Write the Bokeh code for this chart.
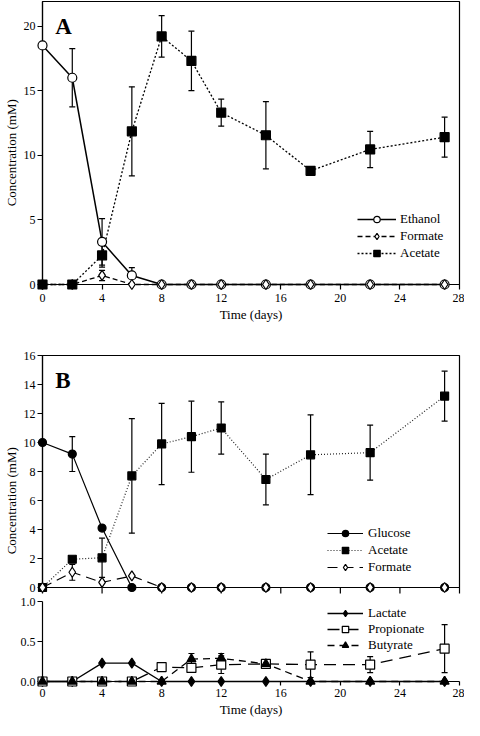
from bokeh.plotting import figure
from bokeh.models import (ColumnDataSource, Whisker, TeeHead, Legend, LegendItem,
                          Range1d, FixedTicker, PrintfTickFormatter)
from bokeh.layouts import column
from bokeh.embed import file_html
from bokeh.resources import INLINE
from bokeh.core.properties import value

# ---------------- data ----------------
days = [0, 2, 4, 6, 8, 10, 12, 15, 18, 22, 27]

# Panel A
ethanol_a = [18.5, 16.0, 3.3, 0.7, 0, 0, 0, 0, 0, 0, 0]
ethanol_a_err = [0, 2.25, 1.8, 0.6, 0, 0, 0, 0, 0, 0, 0]
formate_a = [0, 0, 0.7, 0, 0, 0, 0, 0, 0, 0, 0]
formate_a_err = [0, 0, 0.4, 0, 0, 0, 0, 0, 0, 0, 0]
acetate_a = [0, 0, 2.25, 11.85, 19.2, 17.3, 13.3, 11.55, 8.8, 10.45, 11.4]
acetate_a_err = [0, 0, 0.9, 3.45, 1.6, 2.3, 1.05, 2.6, 0, 1.4, 1.55]

# Panel B (upper)
glucose_b = [10.0, 9.2, 4.1, 0, 0, 0, 0, 0, 0, 0, 0]
glucose_b_err = [0, 1.2, 0, 0, 0, 0, 0, 0, 0, 0, 0]
acetate_b = [0, 1.95, 2.05, 7.7, 9.9, 10.4, 11.0, 7.45, 9.15, 9.3, 13.2]
acetate_b_err = [0, 0, 1.35, 3.95, 2.8, 2.45, 1.8, 1.75, 2.75, 1.9, 1.72]
formate_b = [0, 1.05, 0.35, 0.8, 0, 0, 0, 0, 0, 0, 0]
formate_b_err = [0, 0.55, 0, 0, 0, 0, 0, 0, 0, 0, 0]

# Panel B (lower)
lactate_b = [0, 0, 0.23, 0.23, 0, 0, 0, 0, 0, 0, 0]
propionate_b = [0, 0, 0, 0, 0.18, 0.17, 0.21, 0.22, 0.21, 0.21, 0.41]
propionate_b_err = [0, 0, 0, 0, 0, 0.05, 0.11, 0, 0.16, 0.1, 0.3]
butyrate_b = [0, 0, 0, 0, 0, 0.28, 0.29, 0.22, 0, 0, 0]
butyrate_b_err = [0, 0, 0, 0, 0, 0.07, 0.06, 0, 0, 0, 0]

x_ticks = [0, 4, 8, 12, 16, 20, 24, 28]
ya_ticks = [0, 5, 10, 15, 20]
yb_ticks = [0, 2, 4, 6, 8, 10, 12, 14, 16]
yc_ticks = [0, 0.5, 1.0]

FONT = "Liberation Serif"
NBSP = "\u00a0"
W = 464
ML, MR = 36, 5


def base_fig(height, yr, top, bottom, outline=True, xaxis=True):
    kw = {} if xaxis else {"x_axis_location": None}
    p = figure(width=W, height=height, x_range=Range1d(0, 28), y_range=Range1d(*yr),
               output_backend="svg", toolbar_location=None,
               min_border_left=ML, min_border_right=MR,
               min_border_top=top, min_border_bottom=bottom, **kw)
    p.xgrid.visible = False
    p.ygrid.visible = False
    p.outline_line_color = "black" if outline else None
    p.outline_line_width = 1.2
    p.background_fill_color = "white"
    p.border_fill_color = "white"
    for ax in list(p.xaxis) + list(p.yaxis):
        ax.axis_line_width = 1.2
        ax.axis_line_color = "black"
        ax.major_tick_line_width = 1.2
        ax.major_tick_line_color = "black"
        ax.major_tick_in = 0
        ax.major_tick_out = 5
        ax.minor_tick_line_color = None
        ax.major_label_text_font = FONT
        ax.major_label_text_font_size = "12px"
        ax.major_label_text_color = "black"
        ax.axis_label_text_font = FONT
        ax.axis_label_text_font_style = "normal"
        ax.axis_label_text_font_size = "13px"
        ax.axis_label_text_color = "black"
    if xaxis:
        p.xaxis.ticker = FixedTicker(ticks=x_ticks)
        p.xaxis.major_label_standoff = 4
        p.xaxis.axis_label_standoff = 2
    p.yaxis.major_label_standoff = 2
    p.yaxis.axis_label_standoff = 2
    return p


def add_err(p, xs, ys, errs):
    pts = [(x, y, e) for x, y, e in zip(xs, ys, errs) if e > 0]
    src = ColumnDataSource(dict(x=[a[0] for a in pts],
                                upper=[a[1] + a[2] for a in pts],
                                lower=[a[1] - a[2] for a in pts]))
    w = Whisker(source=src, base="x", upper="upper", lower="lower",
                line_color="black", line_width=1.2,
                upper_head=TeeHead(size=6, line_width=1.2, line_color="black"),
                lower_head=TeeHead(size=6, line_width=1.2, line_color="black"))
    p.add_layout(w)


def add_line(p, xs, ys, dash, lw, color="black"):
    src = ColumnDataSource(dict(x=xs, y=ys))
    return p.line("x", "y", source=src, line_color=color, line_width=lw,
                  line_dash=dash, level="overlay")


def add_marker(p, xs, ys, marker, size, fill):
    src = ColumnDataSource(dict(x=xs, y=ys))
    return p.scatter("x", "y", source=src, marker=marker, size=size,
                     fill_color=fill, line_color="black", line_width=1.2,
                     level="overlay")


def make_legend(items, loc, gw, sp, stand):
    lg = Legend(items=items, location=loc)
    lg.label_text_font = FONT
    lg.label_text_font_size = "13px"
    lg.label_text_color = "black"
    lg.glyph_width = gw
    lg.glyph_height = 16
    lg.label_height = 16
    lg.spacing = sp
    lg.padding = 0
    lg.margin = 0
    lg.label_standoff = stand
    lg.border_line_color = None
    lg.background_fill_alpha = 0
    return lg


# ---------------- Panel A ----------------
p1 = base_fig(339, (0, 21.9), 1, 55)
p1.yaxis.ticker = FixedTicker(ticks=ya_ticks)
p1.xaxis.axis_label = "Time (days)"
p1.yaxis.axis_label = "Concentration (mM)" + NBSP * 6

add_err(p1, days, ethanol_a, ethanol_a_err)
add_err(p1, days, formate_a, formate_a_err)
add_err(p1, days, acetate_a, acetate_a_err)
l_eth = add_line(p1, days, ethanol_a, "solid", 1.5)
l_for = add_line(p1, days, formate_a, "5 3", 1.3)
l_ace = add_line(p1, days, acetate_a, "2 2", 1.3)
m_eth = add_marker(p1, days, ethanol_a, "circle", 9, "white")
m_for = add_marker(p1, days, formate_a, "diamond", 10, "white")
m_ace = add_marker(p1, days, acetate_a, "square", 9, "black")

p1.text(x=[0.85], y=[20.0], text=["A"], text_font=value(FONT), text_font_size="23px",
        text_font_style="bold", text_baseline="alphabetic", text_align="left",
        text_color="black")

p1.add_layout(make_legend([
    LegendItem(label="Ethanol", renderers=[l_eth, m_eth]),
    LegendItem(label="Formate", renderers=[l_for, m_for]),
    LegendItem(label="Acetate", renderers=[l_ace, m_ace]),
], (315, 23), 39, 1, 4))

# ---------------- Panel B upper ----------------
p2 = base_fig(255, (0, 16), 16, 7, xaxis=False)
p2.yaxis.ticker = FixedTicker(ticks=yb_ticks)
p2.yaxis.axis_label = "Concentration (mM)" + NBSP * 18
# bottom tick marks (no labels) hanging below the frame
tick_len = 6 / 14.5
p2.segment(x0=x_ticks, y0=[0] * len(x_ticks), x1=x_ticks,
           y1=[-tick_len] * len(x_ticks), line_color="black", line_width=1.2,
           level="overlay")

add_err(p2, days, glucose_b, glucose_b_err)
add_err(p2, days, acetate_b, acetate_b_err)
add_err(p2, days, formate_b, formate_b_err)
l_glu = add_line(p2, days, glucose_b, "solid", 1.2)
l_aceb = add_line(p2, days, acetate_b, "1 2", 1.2, "#222222")
l_forb = add_line(p2, days, formate_b, "10 6", 1.2)
m_glu = add_marker(p2, days, glucose_b, "circle", 8, "black")
m_aceb = add_marker(p2, days, acetate_b, "square", 8, "black")
m_forb = add_marker(p2, days, formate_b, "diamond", 10, "white")

p2.text(x=[0.85], y=[14.3], text=["B"], text_font=value(FONT), text_font_size="23px",
        text_font_style="bold", text_baseline="alphabetic", text_align="left",
        text_color="black")

p2.add_layout(make_legend([
    LegendItem(label="Glucose", renderers=[l_glu, m_glu]),
    LegendItem(label="Acetate", renderers=[l_aceb, m_aceb]),
    LegendItem(label="Formate", renderers=[l_forb, m_forb]),
], (285, 12), 36, 1, 5))

# ---------------- Panel B lower ----------------
p3 = base_fig(126, (0, 1.0), 7, 39, outline=False)
p3.yaxis.ticker = FixedTicker(ticks=yc_ticks)
p3.yaxis.formatter = PrintfTickFormatter(format="%.1f")
p3.xaxis.axis_label = "Time (days)"
p3.xaxis.major_tick_out = 4
p3.xaxis.major_label_standoff = 3

add_err(p3, days, propionate_b, propionate_b_err)
add_err(p3, days, butyrate_b, butyrate_b_err)
l_lac = add_line(p3, days, lactate_b, "solid", 1.3)
l_pro = add_line(p3, days, propionate_b, "12 7", 1.3)
l_but = add_line(p3, days, butyrate_b, "7 5", 1.3)
m_lac = add_marker(p3, days, lactate_b, "diamond", 10, "black")
m_pro = add_marker(p3, days, propionate_b, "square", 9, "white")
m_but = add_marker(p3, days, butyrate_b, "triangle", 9, "black")

p3.add_layout(make_legend([
    LegendItem(label="Lactate", renderers=[l_lac, m_lac]),
    LegendItem(label="Propionate", renderers=[l_pro, m_pro]),
    LegendItem(label="Butyrate", renderers=[l_but, m_but]),
], (285, 28), 36, 0, 5))

layout = column(p1, p2, p3, spacing=0)
open("out.html", "w").write(file_html(layout, INLINE))
